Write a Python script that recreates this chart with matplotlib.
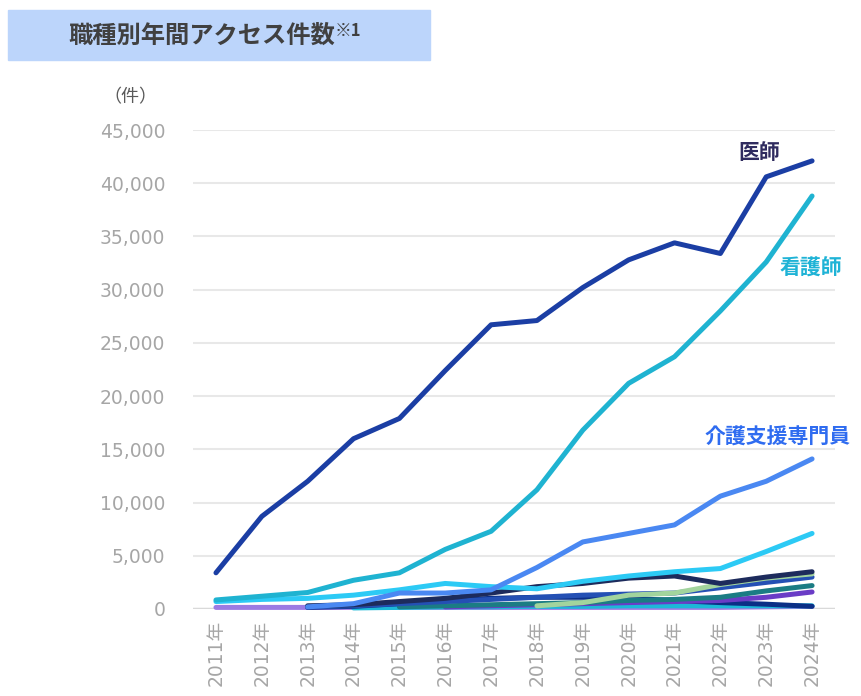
import numpy as np
import matplotlib.pyplot as plt
from matplotlib.patches import Rectangle

plt.rcParams['font.family'] = ['Noto Sans CJK JP', 'DejaVu Sans']

years = [2011, 2012, 2013, 2014, 2015, 2016, 2017, 2018, 2019, 2020, 2021, 2022, 2023, 2024]
year_labels = [f'{y}年' for y in years]
nan = np.nan

# annual access counts per occupation
doctor = [3400, 8700, 12000, 16000, 17900, 22400, 26700, 27100, 30200, 32800, 34400, 33400, 40600, 42100]
nurse = [850, 1200, 1550, 2700, 3400, 5600, 7300, 11200, 16800, 21200, 23700, 28000, 32600, 38800]
care_manager = [nan, nan, 200, 500, 1500, 1500, 1800, 3900, 6300, 7100, 7900, 10600, 12000, 14100]
other_cyan = [700, 900, 1000, 1300, 1800, 2400, 2100, 1900, 2600, 3100, 3500, 3800, 5400, 7100]
other_navy = [nan, nan, 300, 400, 700, 1000, 1500, 2100, 2400, 2900, 3100, 2400, 3000, 3500]
other_green = [nan, nan, nan, nan, nan, nan, nan, 300, 600, 1300, 1500, 2300, 2900, 3300]
other_blue = [nan, nan, 200, 300, 500, 700, 900, 1100, 1300, 1400, 1500, 2000, 2500, 3000]
other_teal = [nan, nan, nan, nan, 200, 300, 400, 500, 600, 800, 900, 1100, 1700, 2200]
other_purple = [nan, nan, nan, nan, nan, 200, 300, 400, 500, 600, 700, 800, 1100, 1600]
other_darknavy = [nan, nan, 150, 250, 500, 800, 1000, 1100, 1100, 1000, 800, 600, 450, 250]
other_lilac = [150, 150, 150, 150, 150, 150, 150, 150, 150, 150, 150, 150, 200, 250]
other_aqua = [nan, nan, nan, 100, 150, 200, 200, 250, 250, 300, 300, 300, 300, 300]

series = [
    (other_lilac, '#9b7be3'),
    (other_aqua, '#1cb8d8'),
    (other_darknavy, '#0b2f86'),
    (other_purple, '#6a3cc6'),
    (other_teal, '#1b7c84'),
    (other_blue, '#2450b4'),
    (other_green, '#a2d49d'),
    (other_navy, '#1d2b5c'),
    (other_cyan, '#2ccaf5'),
    (care_manager, '#4a88f2'),
    (nurse, '#1fb3d1'),
    (doctor, '#1b3ea4'),
]

tick_font = ['DejaVu Sans', 'Noto Sans CJK JP']

fig = plt.figure(figsize=(8.61, 6.96), dpi=100)
ax = fig.add_axes([0.2242, 0.125, 0.7456, 0.6882])

x = np.arange(len(years))
for values, color in series:
    ax.plot(x, values, color=color, lw=3.6, solid_capstyle='round',
            solid_joinstyle='round', clip_on=False, zorder=3)

ax.set_xlim(-0.5, len(years) - 0.5)
ax.set_ylim(0, 45000)
ax.set_yticks(range(0, 45001, 5000))
ax.set_yticklabels([f'{v:,}' for v in range(0, 45001, 5000)], fontsize=13.5,
                   color='#a6a6a6', family=tick_font)
ax.set_xticks(x)
ax.set_xticklabels(year_labels, rotation=90, fontsize=13.5, color='#a6a6a6',
                   family=tick_font)
ax.tick_params(length=0, pad=8)
ax.tick_params(axis='y', pad=20)
for s in ax.spines.values():
    s.set_visible(False)
ax.grid(axis='y', color='#e8e8e8', lw=1.5)
ax.axhline(0, color='#d9d9d9', lw=2.5, zorder=2)
ax.set_axisbelow(True)

# series labels
ax.text(11.4, 42300, '医師', color='#2f2b5f', fontsize=15, fontweight='bold')
ax.text(12.3, 32000, '看護師', color='#1fb3d6', fontsize=15, fontweight='bold', va='center')
ax.text(10.66, 16100, '介護支援専門員', color='#2f6cf0', fontsize=15, fontweight='bold',
        va='center')

# unit label
fig.text(0.151, 1 - 97 / 696, '（件）', fontsize=13, color='#595959', ha='center', va='center')

# title banner
fig.patches.append(Rectangle((8 / 861, 1 - 60 / 696), 422 / 861, 50 / 696,
                             transform=fig.transFigure, color='#bcd5fb', zorder=0))
fig.text(0.079, 1 - 36 / 696, '職種別年間アクセス件数', fontsize=17.5, fontweight='bold',
         color='#404040', ha='left', va='center')
fig.text(0.389, 1 - 31 / 696, '※1', fontsize=12, fontweight='bold',
         color='#404040', ha='left', va='center')

fig.savefig('out.png', dpi=100)
